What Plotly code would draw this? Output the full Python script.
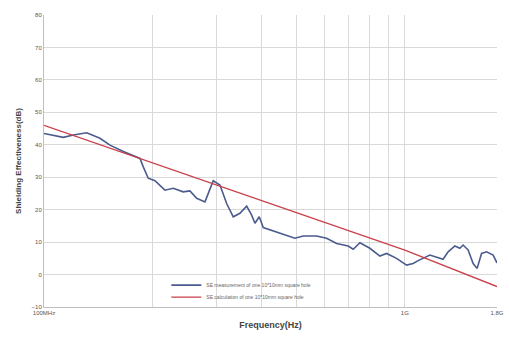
import plotly.graph_objects as go

# Measured SE (frequency in MHz, SE in dB)
meas_freq_mhz = [100, 113.1, 120.6, 131.3, 142.9, 152.3, 165.9, 184.5, 188.4, 194.5,
                 203.0, 216.3, 228.1, 243.1, 253.7, 264.9, 279.3, 294.4, 307.3, 320.7,
                 334.5, 349.1, 364.4, 376.2, 384.2, 394.9, 405.1, 431.7, 470.2, 495.8,
                 522.8, 569.4, 606.9, 646.9, 696.6, 719.3, 750.7, 799.9, 852.6, 889.9,
                 948.4, 1010.9, 1054.4, 1088.4, 1173, 1237, 1276, 1318, 1376, 1420,
                 1450, 1497, 1546, 1586, 1631, 1684, 1756, 1800]
meas_se_db = [43.5, 42.3, 43.0, 43.7, 42.0, 39.9, 37.9, 35.8, 33.2, 29.7,
              28.9, 26.0, 26.6, 25.5, 25.8, 23.5, 22.4, 28.9, 27.6, 21.9,
              17.8, 18.9, 21.1, 18.3, 15.8, 17.8, 14.5, 13.5, 12.2, 11.2,
              11.9, 11.9, 11.2, 9.6, 8.8, 7.8, 9.8, 8.1, 5.7, 6.5,
              5.0, 2.9, 3.4, 4.3, 6.0, 5.3, 4.7, 7.0, 8.8, 8.1,
              9.1, 7.6, 3.4, 1.9, 6.5, 7.0, 6.0, 3.6]

# Calculated SE
calc_freq_mhz = [100, 200, 300, 400, 500, 600, 700, 800, 900, 1000, 1800]
calc_se_db = [46.0, 34.4, 27.6, 22.8, 19.0, 16.0, 13.5, 11.2, 9.3, 7.5, -3.7]

x_tick_vals_mhz = [100, 1000, 1800]
x_tick_text = ["100MHz", "1G", "1.8G"]
x_minor_grid_mhz = [200, 300, 400, 500, 600, 700, 800, 900]
y_tick_vals = [-10, 0, 10, 20, 30, 40, 50, 60, 70, 80]

hz = 1e6
fig = go.Figure()
fig.add_trace(go.Scatter(
    x=[f * hz for f in meas_freq_mhz], y=meas_se_db, mode="lines",
    name="SE measurement of one 10*10mm square hole",
    line=dict(color="#4B5B8E", width=1.6), legend="legend"))
fig.add_trace(go.Scatter(
    x=[f * hz for f in calc_freq_mhz], y=calc_se_db, mode="lines",
    name="SE calculation of one 10*10mm square hole",
    line=dict(color="#C8404A", width=1.3), legend="legend2"))

leg_common = dict(xanchor="left", yanchor="middle", bgcolor="rgba(255,255,255,0)",
                  font=dict(size=5, color="#666666"), itemwidth=30)

fig.update_layout(
    width=509, height=340,
    margin=dict(l=44, r=12, t=15, b=33, autoexpand=False),
    paper_bgcolor="white", plot_bgcolor="white",
    font=dict(family="Liberation Sans, Arial, sans-serif", color="#555555", size=6),
    showlegend=True,
    legend=dict(x=0.27, y=0.075, **leg_common),
    legend2=dict(x=0.27, y=0.034, **leg_common),
    xaxis=dict(
        type="log",
        range=[8, 9.2553],
        tickmode="array",
        tickvals=[v * hz for v in x_tick_vals_mhz],
        ticktext=x_tick_text,
        showgrid=True, gridcolor="#D9D9D9", gridwidth=1,
        minor=dict(tickmode="array", tickvals=[v * hz for v in x_minor_grid_mhz],
                   showgrid=True, gridcolor="#D9D9D9", gridwidth=1, ticks=""),
        showline=True, linecolor="#BFBFBF", linewidth=1,
        ticks="", tickfont=dict(size=6, color="#555555"),
        title=dict(text="<b>Frequency(Hz)</b>", font=dict(size=9, color="#444444"), standoff=6),
        zeroline=False, automargin=False,
    ),
    yaxis=dict(
        range=[-10, 80],
        tickmode="array", tickvals=y_tick_vals,
        showgrid=True, gridcolor="#D9D9D9", gridwidth=1,
        showline=True, linecolor="#BFBFBF", linewidth=1,
        ticks="", tickfont=dict(size=6, color="#555555"),
        title=dict(text="<b>Shielding Effectiveness(dB)</b>", font=dict(size=8, color="#444444"), standoff=8),
        zeroline=False, automargin=False,
    ),
)

fig.write_html("out.html", config={"displayModeBar": False},
               post_script="document.body.style.margin='0';")
